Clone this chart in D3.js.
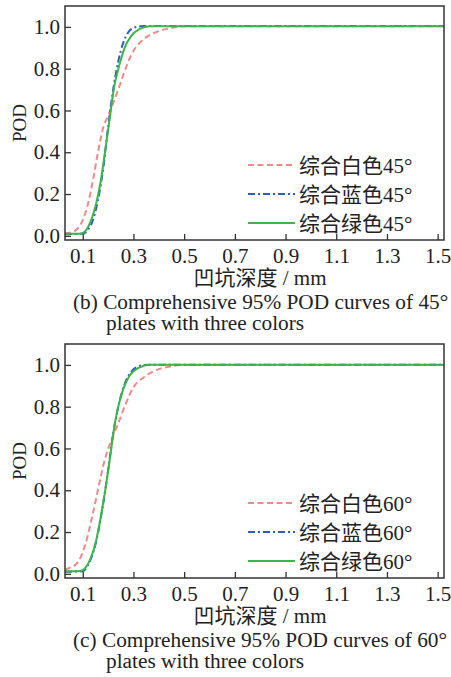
<!DOCTYPE html>
<html>
<head>
<meta charset="utf-8">
<script src="https://cdn.jsdelivr.net/npm/d3@7"></script>
<style>
  body { margin: 0; background: #fff; }
  svg { display: block; }
  text { font-family: "Liberation Serif", "Noto Sans CJK SC", serif; fill: #222; }
</style>
</head>
<body>
<div id="chart"></div>
<script>
// ticks
const depthTicks = [0.1, 0.3, 0.5, 0.7, 0.9, 1.1, 1.3, 1.5]
const podTicks = [0.0, 0.2, 0.4, 0.6, 0.8, 1.0]

// POD curves, [pit depth mm, POD]
const white45 = [[0.03, 0.012], [0.06, 0.018], [0.08, 0.035], [0.10, 0.075], [0.12, 0.15], [0.14, 0.265], [0.16, 0.40], [0.18, 0.515], [0.20, 0.575], [0.22, 0.635], [0.24, 0.70], [0.26, 0.77], [0.28, 0.835], [0.30, 0.885], [0.325, 0.924], [0.36, 0.958], [0.40, 0.98], [0.45, 0.995], [0.50, 1.003], [1.525, 1.003]]
const blue45 = [[0.03, 0.008], [0.10, 0.01], [0.12, 0.028], [0.14, 0.075], [0.16, 0.17], [0.18, 0.315], [0.20, 0.52], [0.22, 0.70], [0.24, 0.835], [0.26, 0.925], [0.28, 0.975], [0.30, 0.995], [0.34, 1.004], [1.525, 1.004]]
const green45 = [[0.03, 0.01], [0.09, 0.01], [0.10, 0.014], [0.11, 0.022], [0.13, 0.065], [0.15, 0.14], [0.17, 0.255], [0.19, 0.42], [0.205, 0.55], [0.225, 0.72], [0.245, 0.82], [0.265, 0.90], [0.29, 0.955], [0.325, 0.99], [0.365, 1.003], [1.525, 1.003]]

const white60 = [[0.03, 0.02], [0.05, 0.03], [0.07, 0.042], [0.09, 0.075], [0.11, 0.14], [0.13, 0.235], [0.15, 0.345], [0.17, 0.46], [0.19, 0.56], [0.21, 0.63], [0.24, 0.72], [0.27, 0.815], [0.30, 0.893], [0.34, 0.94], [0.38, 0.97], [0.43, 0.989], [0.50, 1.0], [1.525, 1.0]]
const blue60 = [[0.03, 0.01], [0.10, 0.012], [0.11, 0.022], [0.13, 0.065], [0.15, 0.14], [0.17, 0.26], [0.19, 0.41], [0.205, 0.54], [0.22, 0.67], [0.246, 0.83], [0.266, 0.91], [0.292, 0.969], [0.33, 0.997], [0.36, 1.001], [1.525, 1.001]]
const green60 = [[0.03, 0.012], [0.09, 0.014], [0.11, 0.028], [0.13, 0.07], [0.15, 0.145], [0.17, 0.265], [0.19, 0.41], [0.207, 0.55], [0.226, 0.715], [0.24, 0.80], [0.26, 0.885], [0.285, 0.949], [0.32, 0.986], [0.365, 1.001], [1.525, 1.001]]

const legend45 = ["综合白色45°", "综合蓝色45°", "综合绿色45°"]
const legend60 = ["综合白色60°", "综合蓝色60°", "综合绿色60°"]

const styles = [
    { color: "#f08a8a", dash: "6,3.5" },
    { color: "#2d5fb8", dash: "7,3,2,3" },
    { color: "#3cb54a", dash: null }
]

const width = 451
const height = 677
const margin = { top: 6, left: 65, right: 7 }
const innerWidth = width - margin.left - margin.right
const innerHeight = 234
const fontFamily = "Liberation Serif, Noto Sans CJK SC, serif"

const svg = d3.select("#chart")
    .append("svg")
    .attr("width", width)
    .attr("height", height)

const xScale = d3.scaleLinear().domain([0.03, 1.525]).range([0, innerWidth])
const yScale = d3.scaleLinear().domain([-0.02, 1.1]).range([innerHeight, 0])

const line = d3.line()
    .x(d => xScale(d[0]))
    .y(d => yScale(d[1]))
    .curve(d3.curveMonotoneX)

const drawPanel = (offsetY, series, labels, caption1, caption2, id) => {
    const g = svg.append("g")
        .attr("transform", `translate(${margin.left},${margin.top + offsetY})`)

    svg.append("clipPath").attr("id", id)
        .append("rect").attr("width", innerWidth).attr("height", innerHeight)

    const xAxis = d3.axisBottom(xScale)
        .tickValues(depthTicks)
        .tickSize(-6)
        .tickPadding(8)
        .tickFormat(d3.format(".1f"))
    const gx = g.append("g")
        .attr("transform", `translate(0,${innerHeight})`)
        .call(xAxis)
        .attr("font-size", 21)
        .attr("font-family", fontFamily)
    gx.select(".domain").remove()
    gx.selectAll("line").attr("stroke", "#333").attr("stroke-width", 1.3)

    const yAxis = d3.axisLeft(yScale)
        .tickValues(podTicks)
        .tickSize(-6)
        .tickPadding(5)
        .tickFormat(d3.format(".1f"))
    const gy = g.append("g").call(yAxis)
        .attr("font-size", 21)
        .attr("font-family", fontFamily)
    gy.select(".domain").remove()
    gy.selectAll("line").attr("stroke", "#333").attr("stroke-width", 1.3)

    g.append("g").attr("clip-path", `url(#${id})`)
        .selectAll("path")
        .data(series)
        .join("path")
        .attr("d", d => line(d))
        .attr("fill", "none")
        .attr("stroke", (d, i) => styles[i].color)
        .attr("stroke-width", 2)
        .attr("stroke-dasharray", (d, i) => styles[i].dash)

    g.append("rect")
        .attr("width", innerWidth)
        .attr("height", innerHeight)
        .attr("fill", "none")
        .attr("stroke", "#333")
        .attr("stroke-width", 1.5)

    // legend
    const legend = g.append("g").attr("transform", "translate(183,159)")
    const rows = legend.selectAll("g")
        .data(labels)
        .join("g")
        .attr("transform", (d, i) => `translate(0,${i * 29})`)
    rows.append("line")
        .attr("x1", 0).attr("x2", 47)
        .attr("stroke", (d, i) => styles[i].color)
        .attr("stroke-width", 2)
        .attr("stroke-dasharray", (d, i) => styles[i].dash)
    rows.append("text")
        .attr("x", 51)
        .attr("dy", "0.36em")
        .attr("font-size", 21)
        .text(d => d)

    g.append("text")
        .attr("transform", `translate(-46,${innerHeight / 2}) rotate(-90)`)
        .attr("text-anchor", "middle")
        .attr("dy", "0.35em")
        .attr("font-size", 19)
        .text("POD")

    g.append("text")
        .attr("x", 195)
        .attr("y", innerHeight + 45)
        .attr("text-anchor", "middle")
        .attr("font-size", 21)
        .text("凹坑深度 / mm")

    svg.append("text")
        .attr("x", 73)
        .attr("y", margin.top + offsetY + 303)
        .attr("font-size", 21.3)
        .text(caption1)
    svg.append("text")
        .attr("x", 106)
        .attr("y", margin.top + offsetY + 324)
        .attr("font-size", 21.3)
        .text(caption2)
}

drawPanel(0, [white45, blue45, green45], legend45,
    "(b) Comprehensive 95% POD curves of 45°", "plates with three colors", "clip45")
drawPanel(338, [white60, blue60, green60], legend60,
    "(c) Comprehensive 95% POD curves of 60°", "plates with three colors", "clip60")
</script>
</body>
</html>
